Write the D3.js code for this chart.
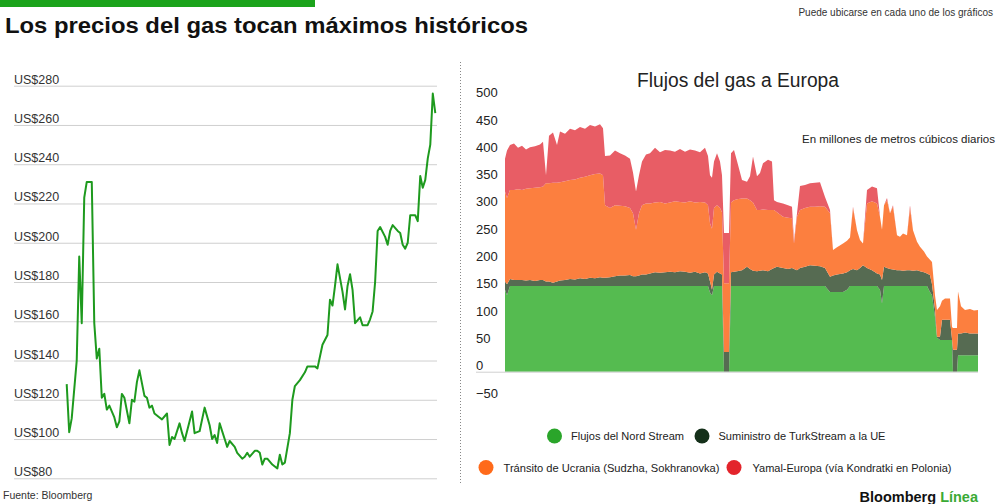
<!DOCTYPE html>
<html lang="es">
<head>
<meta charset="utf-8">
<script src="https://cdn.jsdelivr.net/npm/d3@7"></script>
<style>
  body { margin: 0; background: #fff; }
  svg text { font-family: "Liberation Sans", Arial, sans-serif; fill: #222; }
  .axis .domain { display: none; }
</style>
</head>
<body>
<div id="graf"></div>
<script>
// ---- Datos: precio del gas (izquierda) ----
const semanas = [0,1,2,4,5,6,7,8,10,11,12,13,14,15,16,17,19,20,21,22,23,25,26,27,28,29,31,32,33,34,35,37,38,40,41,42,43,45,46,47,50,51,53,55,57,58,59,60,61,63,64,65,67,68,70,71,72,73,75,76,77,78,79,80,82,84,85,86,87,89,90,91,93,95,96,99,100,102,104,105,106,107,108,110,111,112,113,114,115,117,118,120,121,122,123,124,125,127,128,129,130,132,133,134,135,136,137,139,140,141,142,143,144,145,146,147]
const precios = [128,103.5,110.5,140,193,159,223,231,231,159,141,146,121,123,115,117,111,106,109,123,121,108,120,119,129,135,122,121,116,117,113,111,110,113,97,101,100,108,103,99,114,103,104,116,107,100,102,98,108,100,96,99,96,93,90,91,93,91,94,94,93,87,90,90,87,85,92,87,88,103,120,127,130,134,137,137,136,148,153,171,168,178,189,175,166,178,184,176,159,162,158,158,161,165,180,206,208,203,199,206,209,206,205,199,197,200,214,214,211,234,228,232,243,250,276,266]
const preciosTicks = [80,100,120,140,160,180,200,220,240,260,280]

// ---- Datos: flujos del gas a Europa (derecha), millones de m3 diarios ----
const dias = [0,2,5,9,13,17,21,25,30,35,38,41,44,48,52,55,60,65,70,75,80,85,90,95,98,100,105,110,115,120,125,128,131,134,137,141,145,150,155,160,165,170,175,180,185,190,195,200,203,205,207,209,212,215,217,219,224,226,229,232,237,242,245,248,252,255,258,263,267,269,272,278,283,287,289,292,295,300,305,310,315,320,325,328,332,338,342,345,348,352,355,358,362,367,372,375,377,379,382,385,388,392,395,398,402,405,408,412,415,419,422,425,427,430,432,435,437,440,445,447,448,452,453,456,460,465,469,473]
const nordStream = [150,140,157,157,157,157,157,157,157,157,157,157,157,157,157,157,157,157,157,157,157,157,157,157,157,157,157,157,157,157,157,157,157,157,157,157,157,157,157,157,157,157,157,157,157,157,157,157,157,145,140,157,157,157,157,0,0,157,157,157,157,157,157,157,157,157,157,157,157,157,157,157,157,157,157,157,157,157,157,157,157,157,146,146,146,146,150,157,157,157,157,157,157,157,157,150,125,157,157,157,157,157,157,157,157,157,157,157,157,157,157,146,140,100,62,58,58,58,58,58,0,0,30,30,30,30,30,30]
const turkStream = [15,20,13,11,11,11,10,11,9,11,11,8,8,6,8,10,11,13,12,14,13,15,14,16,15,15,16,18,19,19,20,18,18,19,21,21,23,25,24,25,26,25,27,26,24,26,23,25,23,20,10,21,26,23,21,36,36,25,26,27,29,35,31,28,27,28,29,27,31,33,35,33,31,33,31,29,33,35,38,37,36,33,28,30,32,34,32,29,31,29,33,38,33,29,23,28,43,35,33,31,30,29,29,28,29,29,28,29,27,25,23,31,20,15,2,6,37,37,37,2,40,40,40,40,42,40,40,40]
const ucrania = [165,158,163,165,166,165,168,168,171,170,171,180,180,183,181,180,181,181,183,184,187,188,191,190,188,133,127,130,128,127,123,115,85,114,127,130,128,128,130,126,127,130,127,127,131,127,131,128,125,107,112,122,122,120,114,126,126,128,131,132,131,125,126,125,112,111,111,112,108,106,100,94,94,91,47,98,106,108,107,108,110,112,116,47,50,55,58,60,112,73,51,40,118,126,128,106,92,113,124,102,115,64,61,68,64,114,74,52,45,38,31,28,41,25,49,56,35,39,39,22,40,40,77,50,41,45,42,43]
const yamal = [60,87,82,85,76,81,72,75,76,78,82,15,87,92,69,93,87,94,90,93,88,92,87,90,86,90,96,100,96,93,90,75,70,70,80,90,92,100,91,98,95,91,97,93,95,95,91,100,90,88,93,85,95,85,68,92,92,90,92,70,34,31,44,84,62,68,85,92,89,18,19,24,23,21,5,6,44,42,43,44,44,18,6,0,0,0,0,0,2,0,0,0,25,27,28,0,0,0,4,0,3,0,0,0,0,5,0,0,0,0,0,0,0,0,0,0,0,0,0,0,0,0,0,0,0,0,0,0]
const flujosTicks = [-50,0,50,100,150,200,250,300,350,400,450,500]

const series = [
  { key: "nord", nombre: "Flujos del Nord Stream", area: "#55bb50", punto: "#2aa52a" },
  { key: "turk", nombre: "Suministro de TurkStream a la UE", area: "#566b52", punto: "#15301a" },
  { key: "ucr", nombre: "Tránsito de Ucrania (Sudzha, Sokhranovka)", area: "#fc7f3f", punto: "#ff6a1a" },
  { key: "yamal", nombre: "Yamal-Europa (vía Kondratki en Polonia)", area: "#e85d65", punto: "#e3242b" },
]

const svg = d3.select("#graf")
  .append("svg")
  .attr("width", 1000)
  .attr("height", 504)

// encabezado
svg.append("rect").attr("x", 0).attr("y", 0).attr("width", 315).attr("height", 7).attr("fill", "#1ba31b")
svg.append("text")
  .attr("x", 5).attr("y", 33)
  .attr("font-size", 22).attr("font-weight", "bold")
  .attr("textLength", 523).attr("lengthAdjust", "spacingAndGlyphs")
  .style("fill", "#111")
  .text("Los precios del gas tocan máximos históricos")
svg.append("text")
  .attr("x", 993).attr("y", 16)
  .attr("font-size", 10).attr("text-anchor", "end")
  .style("fill", "#333")
  .text("Puede ubicarse en cada uno de los gráficos")

// ---- grafica izquierda ----
const xP = d3.scaleLinear().domain([0, 147]).range([66.7, 435.3])
const yP = d3.scaleLinear().domain([80, 280]).range([478.3, 85.7])

const ejeP = d3.axisRight(yP)
  .tickValues(preciosTicks)
  .tickSize(423)
  .tickFormat((d) => "US$" + d)
svg.append("g")
  .attr("transform", "translate(14,0)")
  .classed("axis", true)
  .call(ejeP)
  .call((g) => g.selectAll("line").attr("stroke", "#cfcfcf"))
  .call((g) => g.selectAll("text")
    .attr("x", 0).attr("dy", -2.5)
    .attr("font-size", 12.5)
    .style("fill", "#333"))

const linea = d3.line()
  .x((d, i) => xP(semanas[i]))
  .y((d) => yP(d))
svg.append("path")
  .datum(precios)
  .attr("d", linea)
  .attr("fill", "none")
  .attr("stroke", "#1e9a1e")
  .attr("stroke-width", 2)
  .attr("stroke-linejoin", "round")

svg.append("text")
  .attr("x", 3).attr("y", 499)
  .attr("font-size", 10.5)
  .style("fill", "#333")
  .text("Fuente: Bloomberg")

// separador punteado
svg.append("line")
  .attr("x1", 460.5).attr("x2", 460.5)
  .attr("y1", 62).attr("y2", 483)
  .attr("stroke", "#888")
  .attr("stroke-dasharray", "1,2")

// ---- grafica derecha ----
svg.append("text")
  .attr("x", 637).attr("y", 87)
  .attr("font-size", 20)
  .attr("textLength", 202).attr("lengthAdjust", "spacingAndGlyphs")
  .text("Flujos del gas a Europa")
svg.append("text")
  .attr("x", 995).attr("y", 142.5)
  .attr("font-size", 11.5).attr("text-anchor", "end")
  .text("En millones de metros cúbicos diarios")

const xF = d3.scaleLinear().domain([0, 473]).range([505, 978])
const yF = d3.scaleLinear().domain([-50, 500]).range([399, 98.7])

const filas = dias.map((d, i) => ({
  dia: d,
  nord: nordStream[i],
  turk: turkStream[i],
  ucr: ucrania[i],
  yamal: yamal[i],
}))
const stack = d3.stack().keys(series.map((s) => s.key))
const capas = stack(filas)

const area = d3.area()
  .x((d) => xF(d.data.dia))
  .y0((d) => yF(d[0]))
  .y1((d) => yF(d[1]))

svg.append("g")
  .selectAll("path")
  .data(capas)
  .enter()
  .append("path")
  .attr("d", area)
  .attr("fill", (d, i) => series[i].area)

// linea del cero
svg.append("line")
  .attr("x1", 476).attr("x2", 978)
  .attr("y1", yF(0) + 0.5).attr("y2", yF(0) + 0.5)
  .attr("stroke", "#d0d0d0")

const ejeF = d3.axisRight(yF).tickValues(flujosTicks).tickSize(0)
svg.append("g")
  .attr("transform", "translate(476,0)")
  .classed("axis", true)
  .call(ejeF)
  .call((g) => g.selectAll("text")
    .attr("x", 0).attr("dy", -2)
    .attr("font-size", 13)
    .style("fill", "#222"))

// leyenda
const leyenda = [
  { cx: 554.5, y: 436, tx: 571, w: 113 },
  { cx: 702, y: 436, tx: 718.5, w: 167 },
  { cx: 486, y: 467.5, tx: 503.5, w: 216 },
  { cx: 734, y: 467.5, tx: 752.5, w: 199 },
]
const items = svg.append("g")
  .selectAll("g")
  .data(series)
  .enter()
  .append("g")
items.append("circle")
  .attr("cx", (d, i) => leyenda[i].cx)
  .attr("cy", (d, i) => leyenda[i].y)
  .attr("r", 7.5)
  .attr("fill", (d) => d.punto)
items.append("text")
  .attr("x", (d, i) => leyenda[i].tx)
  .attr("y", (d, i) => leyenda[i].y + 4)
  .attr("font-size", 11)
  .attr("textLength", (d, i) => leyenda[i].w)
  .attr("lengthAdjust", "spacingAndGlyphs")
  .style("fill", "#222")
  .text((d) => d.nombre)

// marca
const marca = svg.append("text")
  .attr("x", 978).attr("y", 501.5)
  .attr("text-anchor", "end")
  .attr("font-size", 14.5)
  .attr("font-weight", "bold")
marca.append("tspan").style("fill", "#111").text("Bloomberg ")
marca.append("tspan").style("fill", "#3aaa35").text("Línea")
</script>
</body>
</html>
